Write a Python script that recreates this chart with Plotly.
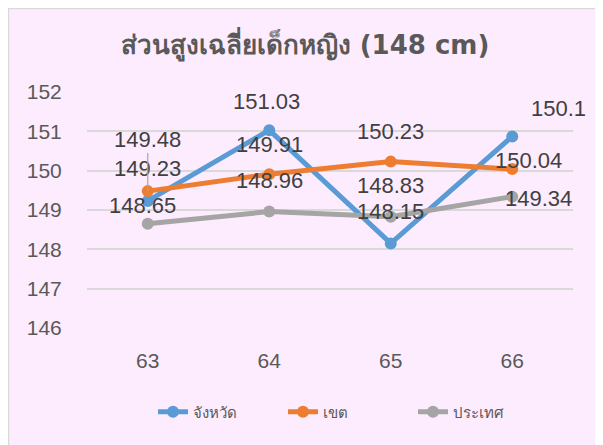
import plotly.graph_objects as go

# ---- data ----
years = ["63", "64", "65", "66"]
province = [149.23, 151.03, 148.15, 150.87]      # จังหวัด
province_text = ["149.23", "151.03", "148.15", "150.1"]
district = [149.48, 149.91, 150.23, 150.04]      # เขต
district_text = ["149.48", "149.91", "150.23", "150.04"]
country = [148.65, 148.96, 148.83, 149.34]       # ประเทศ
country_text = ["148.65", "148.96", "148.83", "149.34"]
y_ticks = [146, 147, 148, 149, 150, 151, 152]

title_text = "ส่วนสูงเฉลี่ยเด็กหญิง (148 cm)"
names = ["จังหวัด", "เขต", "ประเทศ"]
colors = ["#5B9BD5", "#ED7D31", "#A5A5A5"]

# label offsets in pixels (dx right, dy down) - styling only
prov_off = [(0, -32), (-3, -29), (0, -32), (46, -28)]
dist_off = [(0, -52), (0, -30), (0, -30), (16, -9)]
ctry_off = [(-5, -18), (0, -31), (0, -31), (26, 2)]

FONT = "'Liberation Sans', Arial, sans-serif"
TFONT = "'DejaVu Sans', Verdana, sans-serif"
W, H = 603, 445
OFF = 8  # page offset of the figure
L, T = 87 - OFF, 92 - OFF
pw, ph = 486, 236
R, B = W - L - pw, H - T - ph

fig = go.Figure()
for name, vals, col in zip(names, [province, district, country], colors):
    fig.add_trace(go.Scatter(
        x=years, y=vals, name=name, mode="lines+markers",
        line=dict(color=col, width=5),
        marker=dict(color=col, size=12),
    ))

annotations = []
for k, (vals, texts, offs) in enumerate([(province, province_text, prov_off),
                                         (district, district_text, dist_off),
                                         (country, country_text, ctry_off)]):
    for i, (v, t) in enumerate(zip(vals, texts)):
        dx, dy = offs[i]
        if k == 1 and i == 0:
            annotations.append(dict(
                x=i, y=v, xref="x", yref="y", text=t, showarrow=True,
                ax=dx, ay=dy, arrowhead=0, arrowwidth=1.2, arrowcolor="#A6A6A6",
                standoff=0, font=dict(size=22, color="#404040", family=FONT)))
        else:
            annotations.append(dict(
                x=i, y=v, xref="x", yref="y", text=t, showarrow=False,
                xshift=dx, yshift=-dy,
                font=dict(size=22, color="#404040", family=FONT)))

def px_to_paper_x(px):  # px = page pixel
    return (px - OFF - L) / pw

def px_to_paper_y(py):
    return (H - B - (py - OFF)) / ph

fig.add_shape(type="rect", xref="paper", yref="paper",
              x0=px_to_paper_x(8.5), x1=px_to_paper_x(601.5),
              y0=px_to_paper_y(470), y1=px_to_paper_y(8.5),
              fillcolor="#FDECFD", line=dict(color="#D9D9D9", width=1.5),
              layer="below")

fig.update_layout(
    width=W, height=H,
    margin=dict(l=L, r=R, t=T, b=B),
    paper_bgcolor="white", plot_bgcolor="rgba(0,0,0,0)",
    font=dict(family=FONT, color="#595959"),
    title=dict(text="<b>" + title_text + "</b>", x=(305 - OFF) / W, xanchor="center",
               xref="container", yref="container", y=1 - (45 - OFF) / H, yanchor="middle",
               font=dict(size=26, color="#595959", family=TFONT)),
    showlegend=True,
    legend=dict(orientation="h", x=px_to_paper_x(348), xanchor="center",
                y=px_to_paper_y(412), yanchor="middle",
                entrywidth=85, entrywidthmode="pixels",
                font=dict(size=15, color="#595959", family=FONT),
                bgcolor="rgba(0,0,0,0)"),
    annotations=annotations,
)
fig.update_xaxes(type="category", range=[-0.5, 3.5], showgrid=False,
                 zeroline=False, showline=False,
                 ticks="outside", ticklen=14, tickcolor="rgba(0,0,0,0)",
                 tickfont=dict(size=21, color="#595959", family=FONT))
fig.update_yaxes(range=[146, 152], tickvals=y_ticks, showgrid=True,
                 gridcolor="#D9D9D9", gridwidth=1.5, zeroline=False, showline=False,
                 ticks="outside", ticklen=20, tickcolor="rgba(0,0,0,0)",
                 tickfont=dict(size=21, color="#595959", family=FONT))

fig.write_html("out.html")
